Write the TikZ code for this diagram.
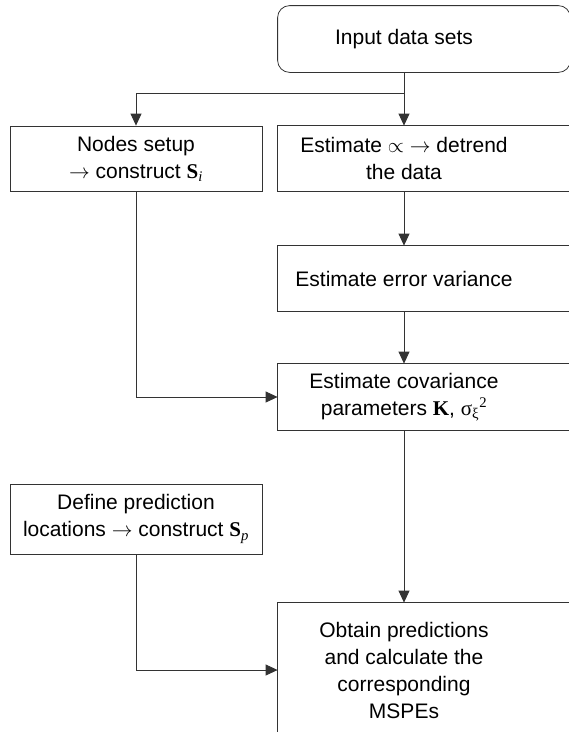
\documentclass[tikz,border=0pt]{standalone}
\usepackage{fontspec}
\setmainfont{Liberation Sans}
\newfontfamily\tms{Liberation Serif}
\usetikzlibrary{arrows.meta,positioning}
\tikzset{
  line/.style={draw=black!80, line width=0.8pt},
  arr/.style={line, -{Triangle[length=12pt,width=11pt]}},
  box/.style={line, minimum width=252pt, minimum height=65pt, align=center, inner sep=0pt},
  tbox/.style={box, draw=none},
}
\newcommand{\bS}[1]{{\tms\bfseries S}\textsubscript{\tms\itshape #1}}
\begin{document}
\begin{tikzpicture}[x=1pt, y=-1pt, font=\fontsize{21}{27}\selectfont]
        \useasboundingbox (0,0) rectangle (569,732);
        \clip (0,0) rectangle (569,732);
        \node[tbox, minimum height=66pt] (input) at (404,39) {Input data sets};
        \node[box] (nodes) at (136,158.5) {Nodes setup\\$\rightarrow$ construct \bS{i}};
        \node[tbox] (estim) at (404,158.5) {Estimate $\propto$ $\rightarrow$ detrend\\the data};
        \node[tbox] (error) at (404,278.5) {Estimate error variance};
        \node[tbox, minimum height=66pt] (cov) at (404,397) {Estimate covariance\\parameters {\tms\bfseries K}, {\tms σ}\textsubscript{\tms ξ}\textsuperscript{\tms 2}};
        \node[box, minimum height=70pt] (define) at (136,519) {Define prediction\\locations $\rightarrow$ construct \bS{p}};
        \node[tbox, minimum height=134pt] (obtain) at (404,670) {Obtain predictions\\and calculate the\\corresponding\\MSPEs};
        % boxes of the right column run past the edge
        \draw[line, rounded corners=12pt] (input.north west) rectangle ([xshift=40pt]input.south east);
        \foreach \n in {estim,error,cov,obtain}
            \draw[line] ([xshift=200pt]\n.north east) -- (\n.north west) -- (\n.south west) -- ([xshift=200pt]\n.south east);
        \draw[line] (input.south) -- ++(0,21) coordinate (split);
        \draw[arr] (split) -| (nodes.north);
        \draw[arr] (split) -- (estim.north);
        \draw[arr] (estim) -- (error);
        \draw[arr] (error) -- (cov);
        \draw[arr] (nodes.south) |- (cov.west);
        \draw[arr] (cov) -- (obtain);
        \draw[arr] (define.south) |- (obtain.west);
\end{tikzpicture}
\end{document}
